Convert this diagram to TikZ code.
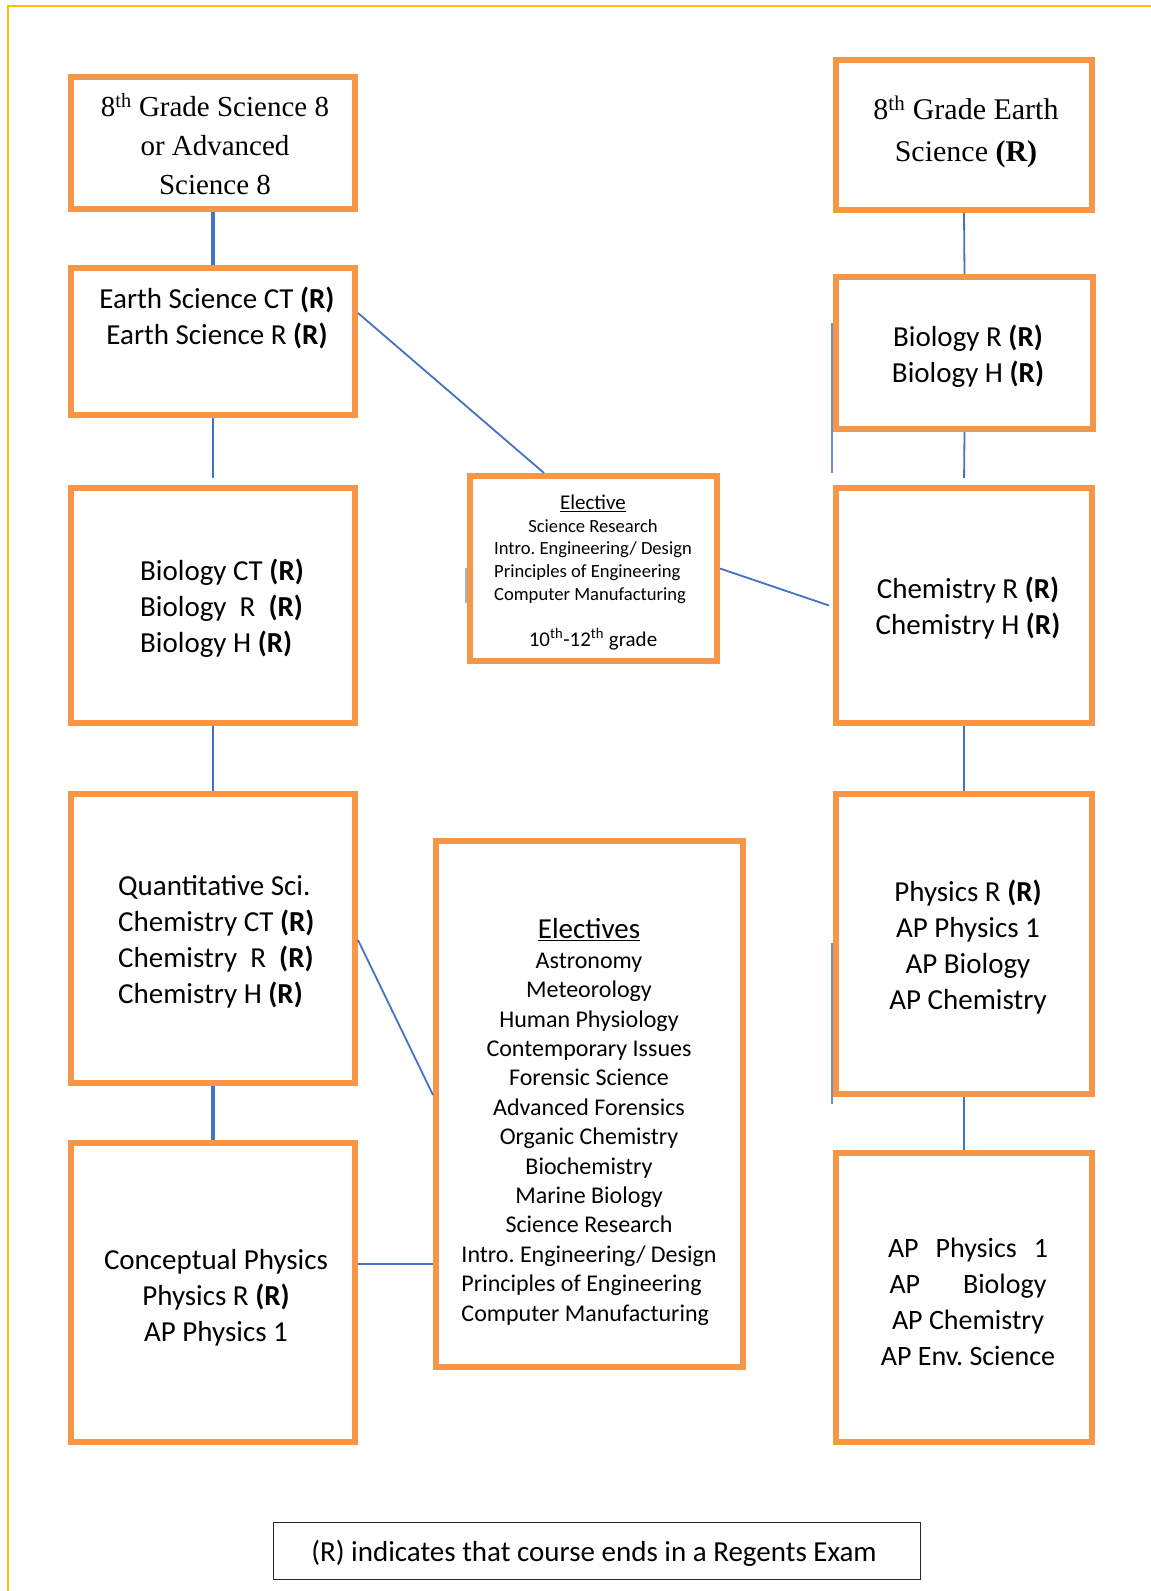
\documentclass[tikz,border=0pt]{standalone}
\usepackage{fontspec}
\setmainfont{Carlito}
\newfontfamily\tnr{Liberation Serif}
\definecolor{orgc}{HTML}{F79646}
\definecolor{bluec}{HTML}{4472C4}
\definecolor{yelc}{HTML}{FFC000}
\newlength\elw
\newlength\elww
\frenchspacing
\begin{document}
\setbox0=\hbox{\fontsize{18.6}{22.8}\selectfont Intro. Engineering/ Design}\setlength\elw{\wd0}%
\setbox0=\hbox{\fontsize{24}{29.4}\selectfont Intro. Engineering/ Design}\setlength\elww{\wd0}%
\begin{tikzpicture}[x=1pt,y=-1pt,
  box/.style={draw=orgc,line width=6pt,inner sep=0pt},
  lbl/.style={inner sep=0pt,align=center,font=\fontsize{29}{36}\selectfont},
  link/.style={draw=bluec,line width=1.8pt},
  thicklink/.style={draw=bluec,line width=3.5pt},
  straylink/.style={draw=bluec!80,line width=1.5pt}]
\fill[white] (0,0) rectangle (1151,1591);
\useasboundingbox (0,0) rectangle (1151,1591);
\draw[yelc,line width=2pt] (1151,6) -- (8,6) -- (8,1591);

% boxes
\node[box,minimum width=284pt,minimum height=132pt] (sci8) at (213,143) {};
\node[box,minimum width=256pt,minimum height=150pt] (esci8) at (964,135) {};
\node[box,minimum width=284pt,minimum height=147pt] (earthct) at (213,341.5) {};
\node[box,minimum width=257pt,minimum height=152pt] (bior) at (964.5,353) {};
\node[box,minimum width=247pt,minimum height=185pt] (elec1) at (593.5,568.5) {};
\node[box,minimum width=284pt,minimum height=235pt] (bioct) at (213,605.5) {};
\node[box,minimum width=256pt,minimum height=235pt] (chem) at (964,605.5) {};
\node[box,minimum width=284pt,minimum height=289pt] (quant) at (213,938.5) {};
\node[box,minimum width=307pt,minimum height=526pt] (elec2) at (589.5,1104) {};
\node[box,minimum width=256pt,minimum height=300pt] (phys) at (964,944) {};
\node[box,minimum width=284pt,minimum height=299pt] (concept) at (213,1292.5) {};
\node[box,minimum width=256pt,minimum height=289pt] (ap) at (964,1297.5) {};
\node[draw=black!85,line width=1.3pt,minimum width=647pt,minimum height=57pt,inner sep=0pt] (legend) at (597,1551) {};

% texts
\node[lbl,font=\tnr\fontsize{29}{38.6}\selectfont] (sci8t) at (215,144)
  {8\textsuperscript{th} Grade Science 8\\or Advanced\\Science 8};
\node[lbl,font=\tnr\fontsize{30}{41.6}\selectfont] (esci8t) at (966,132)
  {8\textsuperscript{th} Grade Earth\\Science \textbf{(R)}};
\node[lbl] (earthctt) at (217,318)
  {Earth Science CT \textbf{(R)}\\Earth Science R \textbf{(R)}};
\node[lbl] (biort) at (968,356)
  {Biology R \textbf{(R)}\\Biology H \textbf{(R)}};
\node[lbl,font=\fontsize{21}{25}\selectfont] (elec1h) at (593,503) {\underline{Elective}};
\node[lbl,font=\fontsize{18.6}{22.8}\selectfont] (elec1t) at (593,561.5)
  {Science Research\\Intro. Engineering/ Design\\\makebox[\elw][l]{Principles of Engineering}\\\makebox[\elw][l]{Computer Manufacturing}};
\node[lbl,font=\fontsize{21}{25}\selectfont] (elec1g) at (593,639)
  {10\textsuperscript{th}-12\textsuperscript{th} grade};
\node[lbl,align=left,anchor=west] (bioctt) at (140,608)
  {Biology CT \textbf{(R)}\\Biology\ \ R\ \ \textbf{(R)}\\Biology H \textbf{(R)}};
\node[lbl] (chemt) at (968,608)
  {Chemistry R \textbf{(R)}\\Chemistry H \textbf{(R)}};
\node[lbl,align=left,anchor=west] (quantt) at (118,942)
  {Quantitative Sci.\\Chemistry CT \textbf{(R)}\\Chemistry\ \ R\ \ \textbf{(R)}\\Chemistry H \textbf{(R)}};
\node[lbl] (elec2h) at (589,930) {\underline{Electives}};
\node[lbl,font=\fontsize{24}{29.4}\selectfont] (elec2t) at (589,1139)
  {Astronomy\\Meteorology\\Human Physiology\\Contemporary Issues\\Forensic Science\\Advanced Forensics\\Organic Chemistry\\Biochemistry\\Marine Biology\\Science Research\\Intro. Engineering/ Design\\\makebox[\elww][l]{Principles of Engineering}\\\makebox[\elww][l]{Computer Manufacturing}};
\node[lbl] (physt) at (968,947)
  {Physics R \textbf{(R)}\\AP Physics 1\\AP Biology\\AP Chemistry};
\node[lbl] (conceptt) at (216,1298)
  {Conceptual Physics\\Physics R \textbf{(R)}\\AP Physics 1};
\node[lbl,font=\fontsize{28}{35.8}\selectfont] (apt) at (968,1302)
  {\makebox[160pt]{AP\hfill Physics\hfill 1}\\\makebox[157pt]{AP\hfill Biology}\\AP Chemistry\\AP Env. Science};
\node[lbl] (legendt) at (594,1553) {(R) indicates that course ends in a Regents Exam};

% connectors
\draw[thicklink] (sci8.south) -- (earthct.north);
\draw[link,shorten >=7pt] (earthct.south) -- (bioct.north);
\draw[link] (bioct.south) -- (quant.north);
\draw[thicklink] (quant.south) -- (concept.north);
\draw[link] (esci8.south) -- (bior.north);
\draw[link,shorten >=7pt] (bior.south) -- (chem.north);
\draw[link] (chem.south) -- (phys.north);
\draw[link] (phys.south) -- (ap.north);
\draw[link] ([yshift=28.5pt]earthct.east) -- ([xshift=-49.5pt]elec1.north);
\draw[link] (elec1.east) -- ([xshift=-4pt]chem.west);
\draw[link] ([yshift=-1.5pt]quant.east) -- ([yshift=9pt]elec2.west);
\draw[link] ([yshift=28.5pt]concept.east) -- ([yshift=-160pt]elec2.west);

% stray segments
\coordinate (s1a) at (832,323);
\coordinate (s1b) at (832,473);
\coordinate (s2a) at (832,943);
\coordinate (s2b) at (832,1104);
\coordinate (s3a) at (466,568);
\coordinate (s3b) at (466,603);
\draw[straylink] (s1a) -- (s1b);
\draw[straylink] (s2a) -- (s2b);
\draw[straylink,draw=bluec!55] (s3a) -- (s3b);
\end{tikzpicture}
\end{document}
